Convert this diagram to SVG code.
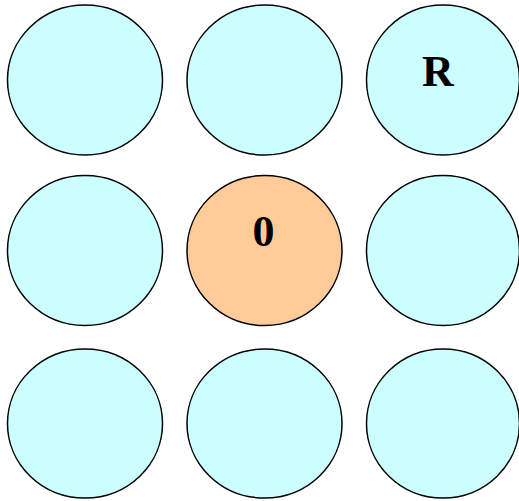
<svg xmlns="http://www.w3.org/2000/svg" width="519" height="501" viewBox="0 0 519 501">
<style>
.n{fill:#ccffff;stroke:#000;stroke-width:1.5}
.o{fill:#ffcc99;stroke:#000;stroke-width:1.5}
.t{font-family:"Liberation Serif",serif;font-weight:bold;font-size:44px;text-anchor:middle;fill:#000}
</style>
<rect width="519" height="501" fill="#fff"/>
<g id="n00"><ellipse class="n" cx="85" cy="80" rx="77.5" ry="75"/></g>
<g id="n01"><ellipse class="n" cx="264.5" cy="80" rx="77.5" ry="75"/></g>
<g id="n02"><ellipse class="n" cx="443" cy="80" rx="76.5" ry="75"/><text class="t" x="438" y="86">R</text></g>
<g id="n10"><ellipse class="n" cx="85" cy="250.5" rx="77.5" ry="75"/></g>
<g id="n11"><ellipse class="o" cx="264.5" cy="250.5" rx="77.5" ry="75"/><text class="t" x="263.5" y="246">0</text></g>
<g id="n12"><ellipse class="n" cx="443" cy="250.5" rx="76.5" ry="75"/></g>
<g id="n20"><ellipse class="n" cx="85" cy="423.5" rx="77.5" ry="74.5"/></g>
<g id="n21"><ellipse class="n" cx="264.5" cy="423.5" rx="77.5" ry="74.5"/></g>
<g id="n22"><ellipse class="n" cx="443" cy="423.5" rx="76.5" ry="74.5"/></g>
<g id="connectors"></g>
</svg>
